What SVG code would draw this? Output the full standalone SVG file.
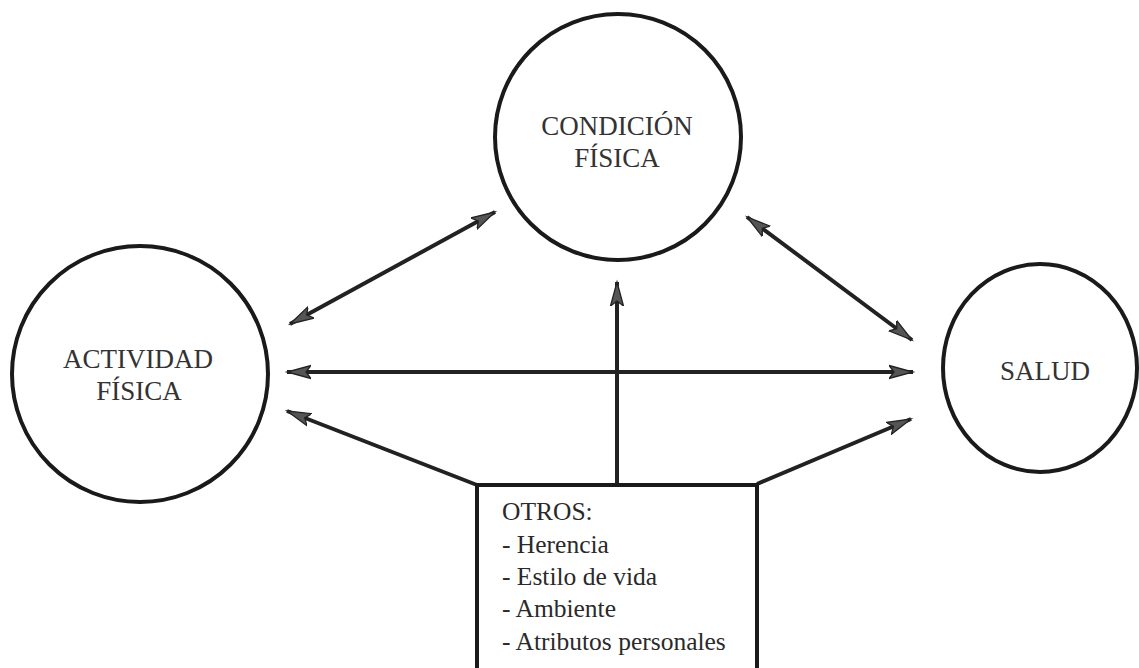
<svg xmlns="http://www.w3.org/2000/svg" width="1139" height="668" viewBox="0 0 1139 668">
<style>
.node{fill:none;stroke:#1a1a1a;stroke-width:4}
.lbl{font-family:"Liberation Serif",serif;font-size:27px;fill:#333;text-anchor:middle}
.box{font-family:"Liberation Serif",serif;font-size:25.5px;fill:#2a2a2a}
.conn{stroke:#222;stroke-width:4;fill:none}
</style>
<defs>
<marker id="ah" markerUnits="userSpaceOnUse" markerWidth="28" markerHeight="18" refX="24" refY="8" orient="auto-start-reverse" viewBox="0 0 28 18">
<path d="M0,1.5 L24,8 L0,14.5 L5,8 Z" fill="#555" stroke="#222" stroke-width="1.3" stroke-linejoin="miter"/>
</marker>
</defs>
<rect width="1139" height="668" fill="#fff"/>
<g id="connectors">
<line class="conn" x1="290" y1="324" x2="495" y2="212" marker-start="url(#ah)" marker-end="url(#ah)"/>
<line class="conn" x1="747" y1="217" x2="912" y2="340" marker-start="url(#ah)" marker-end="url(#ah)"/>
<line class="conn" x1="287" y1="372" x2="913" y2="372" marker-start="url(#ah)" marker-end="url(#ah)"/>
<line class="conn" x1="617" y1="485" x2="617" y2="282" marker-end="url(#ah)"/>
<line class="conn" x1="477" y1="485" x2="287" y2="411" marker-end="url(#ah)"/>
<line class="conn" x1="757" y1="484" x2="911" y2="419" marker-end="url(#ah)"/>
</g>
<g id="condicion">
<circle class="node" cx="618" cy="137" r="123"/>
<text class="lbl" x="617" y="135">CONDICIÓN</text>
<text class="lbl" x="617" y="167">FÍSICA</text>
</g>
<g id="actividad">
<circle class="node" cx="140" cy="374" r="128"/>
<text class="lbl" x="138" y="368">ACTIVIDAD</text>
<text class="lbl" x="139" y="400">FÍSICA</text>
</g>
<g id="salud">
<ellipse class="node" cx="1040" cy="368" rx="97" ry="104"/>
<text class="lbl" x="1045" y="380">SALUD</text>
</g>
<g id="otros">
<rect class="node" x="477" y="485" width="280" height="200"/>
<text class="box" x="502" y="520">OTROS:</text>
<text class="box" x="502" y="553">- Herencia</text>
<text class="box" x="502" y="585">- Estilo de vida</text>
<text class="box" x="502" y="617">- Ambiente</text>
<text class="box" x="502" y="650">- Atributos personales</text>
</g>
</svg>
